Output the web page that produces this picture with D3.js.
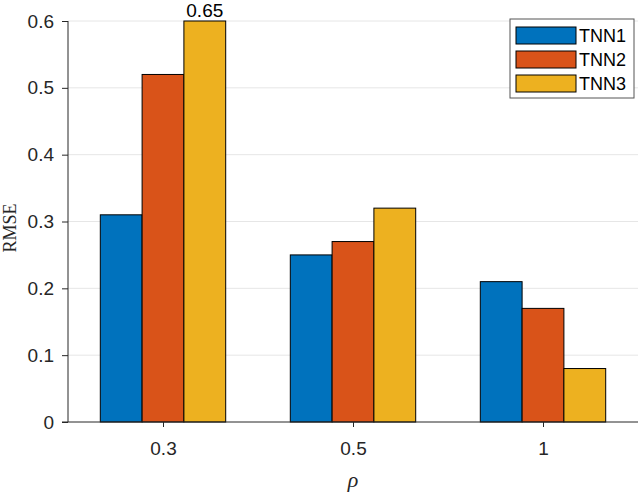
<!DOCTYPE html>
<html>
<head>
<meta charset="utf-8">
<script src="https://cdn.jsdelivr.net/npm/d3@7"></script>
<style>
  body { margin: 0; background: #fff; }
  text { font-family: "Liberation Sans", Arial, sans-serif; fill: #262626; }
</style>
</head>
<body>
<svg id="chart"></svg>
<script>
// data
const categories = ['0.3', '0.5', '1']
const seriesNames = ['TNN1', 'TNN2', 'TNN3']
const tnn1 = [0.31, 0.25, 0.21]
const tnn2 = [0.52, 0.27, 0.17]
const tnn3 = [0.65, 0.32, 0.08]
const yTicks = [0, 0.1, 0.2, 0.3, 0.4, 0.5, 0.6]
const colors = ['#0072BD', '#D95319', '#EDB120']

const width = 640
const height = 492
const margin = { left: 68, right: 2, top: 21, bottom: 70 }
const visWidth = width - margin.left - margin.right
const visHeight = height - margin.top - margin.bottom

const svg = d3.select('svg#chart').attr('width', width).attr('height', height)
const g = svg.append('g').attr('transform', 'translate(' + margin.left + ',' + margin.top + ')')

// x: categories at positions 1..3, domain 0.5..3.5 like matlab
const x = d3.scaleLinear().domain([0.5, 3.5]).range([0, visWidth])
const y = d3.scaleLinear().domain([0, 0.6]).range([visHeight, 0])
const barW = 0.22
const allSeries = [tnn1, tnn2, tnn3]

// grid
g.append('g').selectAll('line').data(yTicks.slice(1)).enter().append('line')
  .attr('x1', 0).attr('x2', visWidth)
  .attr('y1', d => y(d)).attr('y2', d => y(d))
  .attr('stroke', '#e6e6e6').attr('stroke-width', 1)

// bars
allSeries.forEach((vals, s) => {
  g.append('g').selectAll('rect').data(vals).enter().append('rect')
    .attr('x', (d, i) => x(i + 1 + (s - 1) * barW - barW / 2))
    .attr('width', x(barW) - x(0))
    .attr('y', d => y(Math.min(d, 0.6)))
    .attr('height', d => y(0) - y(Math.min(d, 0.6)))
    .attr('fill', colors[s])
    .attr('stroke', '#000').attr('stroke-width', 1)
})

// value label for clipped bar
g.append('text')
  .attr('x', x(1 + barW)).attr('y', y(0.6) - 4)
  .attr('text-anchor', 'middle').attr('font-size', 19)
  .style('fill', '#000')
  .text(d3.format('.2f')(tnn3[0]))

// y axis
const yAxis = d3.axisLeft(y).tickValues(yTicks).tickSize(6).tickPadding(8)
  .tickFormat(d => d === 0 ? '0' : d3.format('.1f')(d))
const ya = g.append('g').call(yAxis)
ya.select('.domain').attr('stroke', '#262626').attr('d', 'M0,' + visHeight + 'V0')
ya.selectAll('.tick line').attr('stroke', '#262626')
ya.selectAll('.tick text').attr('font-size', 19).style('font-family', '"Liberation Sans", Arial, sans-serif').style('fill', '#262626')

// x axis
const xAxis = d3.axisBottom(x).tickValues([1, 2, 3]).tickSize(5).tickPadding(15)
  .tickFormat((d, i) => categories[i])
const xa = g.append('g').attr('transform', 'translate(0,' + visHeight + ')').call(xAxis)
xa.select('.domain').attr('stroke', '#262626').attr('d', 'M-6,0H' + visWidth)
xa.selectAll('.tick line').attr('stroke', '#262626')
xa.selectAll('.tick text').attr('font-size', 19).style('font-family', '"Liberation Sans", Arial, sans-serif').style('fill', '#262626')

// axis labels
svg.append('text')
  .attr('transform', 'translate(16,228) rotate(-90)')
  .attr('text-anchor', 'middle')
  .style('font-family', '"Liberation Serif", "Times New Roman", serif')
  .attr('font-size', 18)
  .text('RMSE')

svg.append('text')
  .attr('x', x(2) + margin.left).attr('y', 487)
  .attr('text-anchor', 'middle')
  .style('font-family', '"Liberation Serif", "Times New Roman", serif')
  .style('font-style', 'italic')
  .attr('font-size', 22)
  .text('ρ')

// legend
const lg = svg.append('g').attr('transform', 'translate(510,19)')
lg.append('rect').attr('width', 124).attr('height', 79)
  .attr('fill', '#fff').attr('stroke', '#555').attr('stroke-width', 1)
seriesNames.forEach((name, i) => {
  lg.append('rect').attr('x', 6).attr('y', 8 + i * 24).attr('width', 60).attr('height', 17)
    .attr('fill', colors[i]).attr('stroke', '#000').attr('stroke-width', 1)
  lg.append('text').attr('x', 69).attr('y', 23 + i * 24)
    .attr('font-size', 18).style('fill', '#000').text(name)
})
</script>
</body>
</html>
